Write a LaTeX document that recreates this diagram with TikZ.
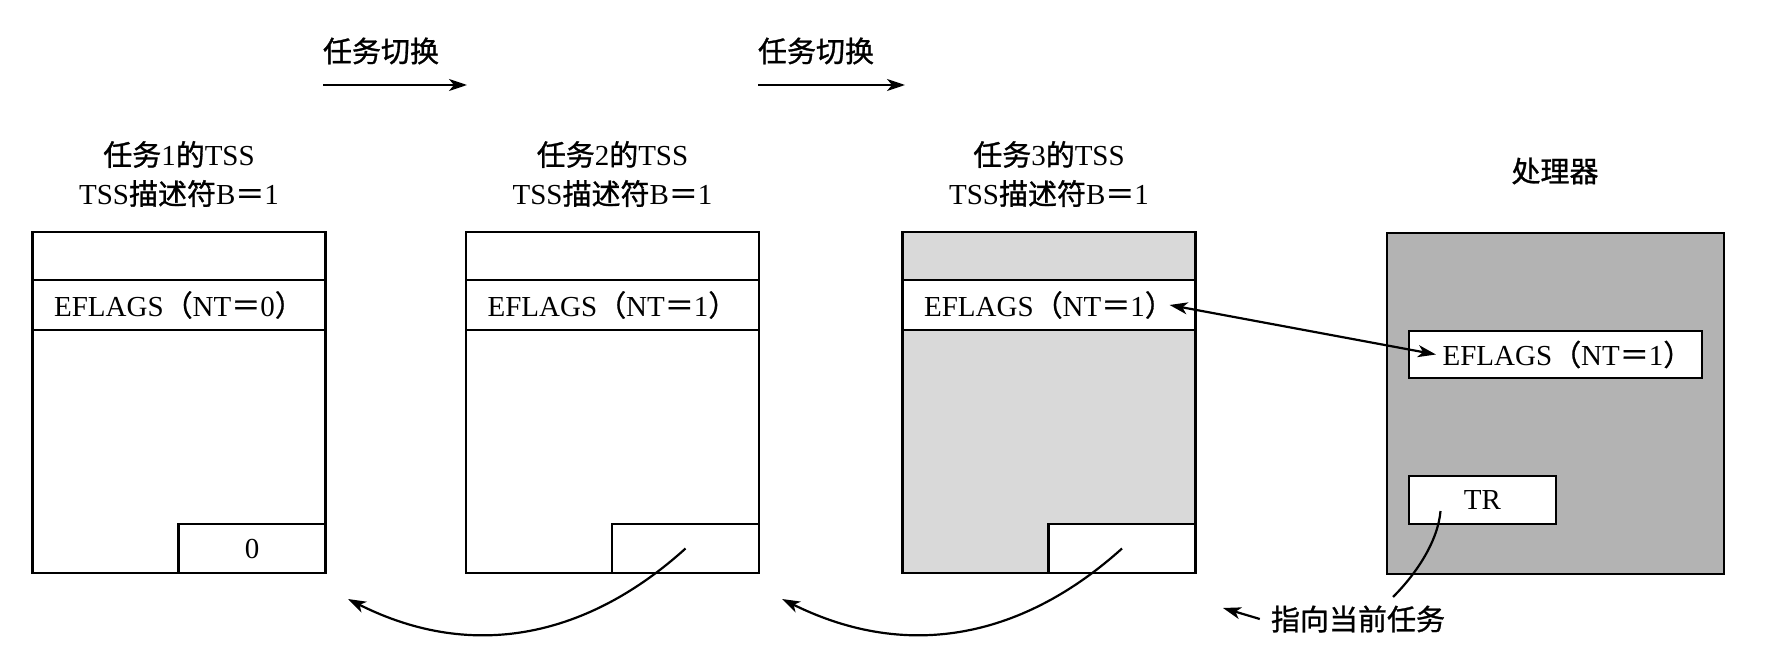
\documentclass[tikz,border=0pt]{standalone}
\usepackage{fontspec}
\setmainfont{Liberation Serif}
\newfontfamily\cjk{Noto Sans CJK SC}[FakeBold=1]
\usetikzlibrary{arrows.meta}
\definecolor{tssfill}{HTML}{D9D9D9}
\definecolor{cpufill}{HTML}{B3B3B3}
\newcommand{\zh}[1]{{\cjk #1}}

\begin{document}
\begin{tikzpicture}[x=1pt,y=-1pt,
  every node/.style={font=\fontsize{29}{39}\selectfont,inner sep=0pt},
  tss/.style={draw,line width=2.2pt,minimum width=293pt,minimum height=341pt},
  row/.style={draw,fill=white,line width=2.2pt,minimum width=293pt,minimum height=50pt},
  slot/.style={draw,fill=white,line width=2.2pt,minimum width=147pt,minimum height=49pt},
  arr/.style={line width=2.2pt,-{Stealth[length=18pt,width=12pt,inset=5pt]}},
  dbl/.style={line width=2.2pt,{Stealth[length=18pt,width=12pt,inset=5pt]}-{Stealth[length=18pt,width=12pt,inset=5pt]}}]
\useasboundingbox (0,0) rectangle (1785,671);

% task switches
\node (sw1) at (381,51) {\zh{任务切换}};
\coordinate (sw1a) at (323,85);
\coordinate (sw1b) at (467,85);
\draw[arr] (sw1a) -- (sw1b);
\node (sw2) at (816,51) {\zh{任务切换}};
\coordinate (sw2a) at (758,85);
\coordinate (sw2b) at (905,85);
\draw[arr] (sw2a) -- (sw2b);

% TSS of task 1
\node[align=center] (t1) at (179,174) {\zh{任务}1\zh{的}TSS\\TSS\zh{描述符}B\zh{＝}1};
\node[tss] (tss1) at (179,402.5) {};
\node[row] (ef1) at (179,305) {EFLAGS\zh{（}NT\zh{＝}0\zh{）}};
\node[slot] (sl1) at (252,548.5) {0};

% TSS of task 2
\node[align=center] (t2) at (612.5,174) {\zh{任务}2\zh{的}TSS\\TSS\zh{描述符}B\zh{＝}1};
\node[tss] (tss2) at (612.5,402.5) {};
\node[row] (ef2) at (612.5,305) {EFLAGS\zh{（}NT\zh{＝}1\zh{）}};
\node[slot] (sl2) at (685.5,548.5) {};

% TSS of task 3 (current)
\node[align=center] (t3) at (1049,174) {\zh{任务}3\zh{的}TSS\\TSS\zh{描述符}B\zh{＝}1};
\node[tss,fill=tssfill] (tss3) at (1049,402.5) {};
\node[row] (ef3) at (1049,305) {EFLAGS\zh{（}NT\zh{＝}1\zh{）}};
\node[slot] (sl3) at (1122,548.5) {};

% processor
\node (cpuname) at (1555,171) {\zh{处理器}};
\node[draw,fill=cpufill,line width=2.2pt,minimum width=337pt,minimum height=341pt] (cpu) at (1555.5,403.5) {};
\node[row,minimum height=47pt] (efp) at (1555.5,354.5) {\hspace*{24pt}EFLAGS\zh{（}NT\zh{＝}1\zh{）}};
\node[slot,minimum height=48pt] (tr) at (1482.5,500) {TR};

\draw[dbl] ([xshift=-27pt]ef3.east) -- ([xshift=28pt]efp.west);

% back links
\coordinate (back1) at (348,599);
\draw[arr] (sl2.center) .. controls (590,635) and (475,663) .. (back1);
\coordinate (back2) at (782,599);
\draw[arr] (sl3.center) .. controls (1026,635) and (911,663) .. (back2);

% TR pointer
\node (ptr) at (1358,619) {\zh{指向当前任务}};
\coordinate (trend) at (1393,597);
\draw[line width=2.2pt] ([shift={(-42,11)}]tr.center) .. controls (1438,540) and (1418,572) .. (trend);
\coordinate (ptrtip) at (1223,608);
\draw[arr] ([xshift=-11pt]ptr.west) -- (ptrtip);
\end{tikzpicture}
\end{document}
